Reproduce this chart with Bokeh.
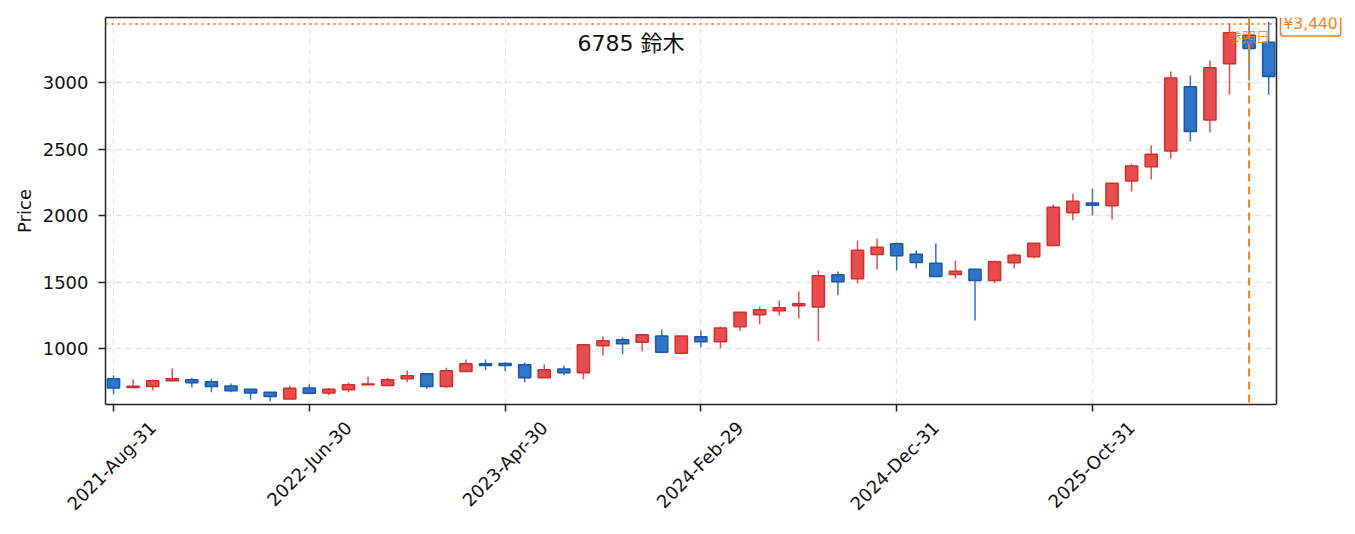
import math
import pandas as pd
from bokeh.plotting import figure
from bokeh.models import (ColumnDataSource, FixedTicker, Span, Label, Range1d,
                          LinearAxis, BoxAnnotation)
from bokeh.embed import file_html
from bokeh.resources import INLINE

# ---- data ----
dates = pd.date_range("2021-08-31", periods=60, freq="ME")
opens = [772, 706, 714, 757, 765, 750, 719, 694, 671, 621,
         704, 666, 689, 727, 722, 772, 810, 714, 827, 885,
         887, 877, 780, 845, 817, 1020, 1065, 1048, 1095, 965,
         1088, 1050, 1163, 1253, 1284, 1321, 1313, 1554, 1524, 1707,
         1787, 1709, 1641, 1556, 1596, 1511, 1644, 1690, 1775, 2020,
         2095, 2073, 2260, 2366, 2486, 2968, 2719, 3141, 3356, 3302]
highs = [797, 767, 767, 850, 780, 772, 737, 694, 671, 722,
         729, 704, 744, 789, 780, 835, 810, 855, 917, 917,
         897, 895, 880, 870, 1028, 1090, 1083, 1103, 1143, 1095,
         1135, 1165, 1273, 1316, 1361, 1429, 1587, 1579, 1812, 1827,
         1797, 1737, 1790, 1662, 1596, 1662, 1714, 1792, 2083, 2163,
         2203, 2243, 2389, 2527, 3083, 3053, 3166, 3445, 3430, 3455]
lows = [656, 706, 686, 752, 709, 671, 671, 614, 604, 621,
        656, 649, 671, 727, 722, 747, 697, 701, 827, 837,
        830, 747, 780, 799, 769, 947, 957, 977, 965, 957,
        1010, 1002, 1130, 1183, 1248, 1226, 1055, 1401, 1491, 1594,
        1587, 1602, 1541, 1529, 1211, 1491, 1602, 1679, 1775, 1965,
        2000, 1970, 2181, 2271, 2429, 2557, 2624, 2910, 3015, 2908]
closes = [704, 716, 757, 772, 742, 714, 682, 666, 639, 701,
          664, 694, 727, 734, 765, 795, 714, 832, 885, 872,
          872, 780, 840, 817, 1028, 1058, 1035, 1103, 972, 1095,
          1050, 1155, 1273, 1291, 1306, 1336, 1547, 1502, 1739, 1762,
          1697, 1647, 1541, 1581, 1511, 1652, 1702, 1792, 2063, 2108,
          2078, 2243, 2373, 2461, 3035, 2632, 3111, 3374, 3256, 3045]
tick_index = [0, 10, 20, 30, 40, 50]
tick_labels = ["2021-Aug-31", "2022-Jun-30", "2023-Apr-30",
               "2024-Feb-29", "2024-Dec-31", "2025-Oct-31"]
y_ticks = [1000, 1500, 2000, 2500, 3000]
ref_price = 3440
ref_index = 58
title_text = "6785  鈴木"
ref_text = "参照日"
ref_label = "¥3,440"

FONT = "DejaVu Sans, Noto Sans CJK JP"
UP_FILL, UP_LINE = "#e84c4c", "#d32f2f"
DN_FILL, DN_LINE = "#2e75c8", "#1a58a8"
ORANGE = "#ff7f0e"
INK = "#111111"
EDGE = "#222222"

# axes box spans X0..X1; the frame continues to the right to hold the price tag
X0, X1 = -0.41, 59.4
Y0, Y1 = 579, 3489
W, H = 1355, 534
LEFT, TOP, BOTTOM = 105, 17, 130
px_per_unit = 1171 / (X1 - X0)
X_EXT = X0 + (W - LEFT) / px_per_unit

idx = list(range(len(dates)))
up = [c >= o for o, c in zip(opens, closes)]
src = ColumnDataSource(dict(
    x=idx,
    top=[max(o, c) for o, c in zip(opens, closes)],
    bottom=[min(o, c) for o, c in zip(opens, closes)],
    high=highs, low=lows,
    fill=[UP_FILL if u else DN_FILL for u in up],
    line=[UP_LINE if u else DN_LINE for u in up],
))

p = figure(width=W, height=H, output_backend="svg", toolbar_location=None,
           x_range=Range1d(X0, X_EXT), y_range=Range1d(Y0, Y1),
           min_border_left=LEFT, min_border_right=0, min_border_top=TOP,
           min_border_bottom=BOTTOM)
p.background_fill_color = "white"
p.border_fill_color = "white"
p.outline_line_color = None

p.xgrid.ticker = FixedTicker(ticks=tick_index)
for g in (p.xgrid, p.ygrid):
    g.grid_line_color = "#e6e6e6"
    g.grid_line_width = 1.3
    g.grid_line_dash = "6 4"

p.segment(x0="x", x1="x", y0="low", y1="high", source=src, line_color="fill", line_width=1.5)
p.vbar(x="x", width=0.62, top="top", bottom="bottom", source=src,
       fill_color="fill", line_color="line", line_width=1.5)

# reference lines
p.add_layout(Span(location=ref_price, dimension="width", line_color=ORANGE,
                  line_width=2, line_dash="2 4"))
p.add_layout(Span(location=ref_index, dimension="height", line_color=ORANGE,
                  line_width=2, line_dash="8 5"))

# white strip outside the axes box, then the box's right edge
p.add_layout(BoxAnnotation(left=X1, fill_color="white", fill_alpha=1.0,
                           line_color=None, level="annotation"))
p.add_layout(Span(location=X1, dimension="height", line_color=EDGE,
                  line_width=1.5, level="overlay"))

# axes
p.xaxis.ticker = FixedTicker(ticks=tick_index)
p.xaxis.major_label_overrides = {t: "" for t in tick_index}
p.xaxis.major_label_standoff = 0
p.xaxis.bounds = (X0, X1)
p.yaxis.ticker = FixedTicker(ticks=y_ticks)
for ax in (p.xaxis, p.yaxis):
    ax.axis_line_color = EDGE
    ax.axis_line_width = 1.5
    ax.major_tick_line_color = EDGE
    ax.major_tick_line_width = 1.5
    ax.major_tick_out = 7
    ax.major_tick_in = 0
    ax.minor_tick_line_color = None
p.yaxis.major_label_text_font = FONT
p.yaxis.major_label_text_font_size = "18px"
p.yaxis.major_label_text_color = INK
p.yaxis.major_label_standoff = 10
p.yaxis.axis_label = "Price"
p.yaxis.axis_label_text_font = FONT
p.yaxis.axis_label_text_font_size = "18px"
p.yaxis.axis_label_text_font_style = "normal"
p.yaxis.axis_label_text_color = INK
p.yaxis.axis_label_standoff = 5

# top edge of the axes box
top_axis = LinearAxis(ticker=FixedTicker(ticks=[]), bounds=(X0, X1))
top_axis.axis_line_color = EDGE
top_axis.axis_line_width = 1.5
top_axis.major_tick_line_color = None
top_axis.minor_tick_line_color = None
top_axis.major_label_text_font_size = "0px"
p.add_layout(top_axis, "above")

# rotated date labels, centred on the ticks (shifted label axis)
SHIFT = 2.0
p.extra_x_ranges = {"lab": Range1d(X0 - SHIFT, X_EXT - SHIFT)}
lab_axis = LinearAxis(x_range_name="lab", ticker=FixedTicker(ticks=tick_index),
                      major_label_overrides=dict(zip(tick_index, tick_labels)))
lab_axis.axis_line_color = None
lab_axis.major_tick_line_color = None
lab_axis.minor_tick_line_color = None
lab_axis.major_tick_out = 0
lab_axis.major_tick_in = 0
lab_axis.major_label_standoff = 13
lab_axis.major_label_orientation = math.pi / 4
lab_axis.major_label_text_font = FONT
lab_axis.major_label_text_font_size = "18px"
lab_axis.major_label_text_color = INK
p.add_layout(lab_axis, "below")

p.add_layout(Label(x=529, y=361, x_units="screen", y_units="screen", text=title_text,
                   text_align="center", text_baseline="middle",
                   text_font=FONT, text_font_size="22px", text_color=INK))
p.add_layout(Label(x=ref_index, y=368, y_units="screen", text=ref_text,
                   text_align="center", text_baseline="middle",
                   text_font=FONT, text_font_size="14px", text_color=ORANGE, text_alpha=0.85))
p.add_layout(Label(x=1175, y=ref_price, x_units="screen", text=ref_label,
                   text_align="left", text_baseline="middle",
                   text_font=FONT, text_font_size="15.5px", text_color=ORANGE,
                   background_fill_color="white", border_line_color=ORANGE,
                   border_line_width=1.5, padding=3, border_radius=3, level="overlay"))

open("out.html", "w").write(file_html(p, INLINE))
